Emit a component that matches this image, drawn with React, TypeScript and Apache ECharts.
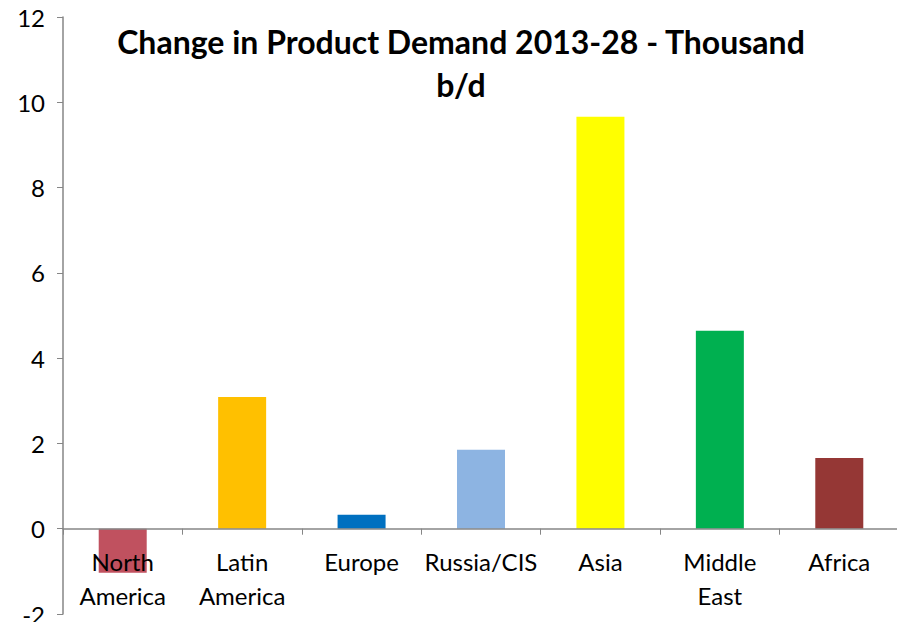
import React, { useEffect, useRef } from "react";
import * as echarts from "echarts";

const categories = ["North\nAmerica", "Latin\nAmerica", "Europe", "Russia/CIS", "Asia", "Middle\nEast", "Africa"];
const values = [-1.03, 3.09, 0.33, 1.85, 9.66, 4.64, 1.66];
const colors = ["#C0515F", "#FFC000", "#0070C0", "#8DB4E2", "#FFFF00", "#00B050", "#953735"];
const yTicks = { min: -2, max: 12, interval: 2 };
const titleText = "Change in Product Demand 2013-28 - Thousand\nb/d";

export default function App() {
  const ref = useRef<HTMLDivElement>(null);
  useEffect(() => {
    if (!ref.current) return;
    const chart = echarts.init(ref.current, null, { renderer: "svg" });
    const font = "Lato, 'Open Sans', sans-serif";
    const gridTop = 17;
    const gridBottom = 8;
    const plotH = 622 - gridTop - gridBottom;
    // distance from the grid's bottom edge up to the value-0 line
    const zeroOffset = -plotH * (0 - yTicks.min) / (yTicks.max - yTicks.min);
    chart.setOption({
      animation: false,
      backgroundColor: "#ffffff",
      title: {
        text: titleText,
        left: 461,
        top: 20,
        padding: 0,
        textAlign: "center",
        textStyle: { fontSize: 32, fontWeight: "bold", lineHeight: 43, color: "#000", fontFamily: font },
      },
      grid: { left: 63, right: -2, top: gridTop, bottom: gridBottom, containLabel: false, outerBoundsMode: "none" },
      xAxis: {
        type: "category",
        data: categories,
        position: "bottom",
        offset: zeroOffset,
        z: 10,
        axisLine: { onZero: false, lineStyle: { color: "#868686", width: 1.5 } },
        axisTick: { show: true, length: 6, inside: false, lineStyle: { color: "#868686" } },
        axisLabel: { color: "#000", fontSize: 24, lineHeight: 34, margin: 16, fontFamily: font, interval: 0 },
        splitLine: { show: false },
      },
      yAxis: {
        type: "value",
        min: yTicks.min,
        max: yTicks.max,
        interval: yTicks.interval,
        axisLine: { show: true, lineStyle: { color: "#868686", width: 1.5 } },
        axisTick: { show: true, length: 6, lineStyle: { color: "#868686" } },
        axisLabel: { color: "#000", fontSize: 24, margin: 18, fontFamily: font },
        splitLine: { show: false },
      },
      series: [
        {
          type: "bar",
          barWidth: 48,
          data: values.map((v, i) => ({ value: v, itemStyle: { color: colors[i] } })),
        },
      ],
    });
    return () => chart.dispose();
  }, []);
  return <div ref={ref} style={{ position: "fixed", left: 0, top: 0, width: 897, height: 622 }} />;
}
